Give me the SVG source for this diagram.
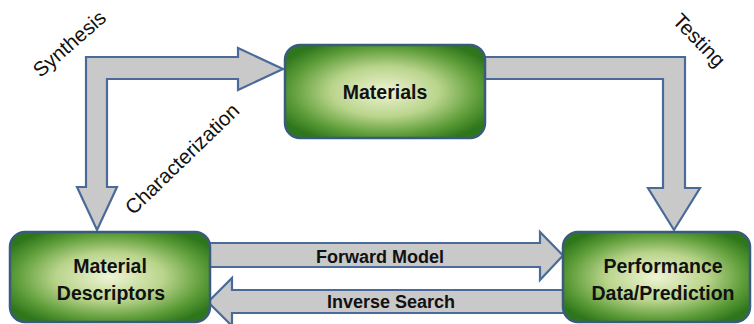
<svg xmlns="http://www.w3.org/2000/svg" width="754" height="324" viewBox="0 0 754 324">
  <defs>
    <radialGradient id="g" cx="50%" cy="50%" r="60%">
      <stop offset="0" stop-color="#eef4d4"/>
      <stop offset="0.45" stop-color="#b9d48b"/>
      <stop offset="0.78" stop-color="#5e9d39"/>
      <stop offset="1" stop-color="#2e761b"/>
    </radialGradient>
    <style>
      .node { fill: url(#g); stroke: #3b5b7c; stroke-width: 2.5; }
      .arrow { fill: #c9c9c9; stroke: #4a6b99; stroke-width: 2.2; stroke-linejoin: miter; }
      .nt { font-family: "Liberation Sans", Arial, sans-serif; font-weight: bold; font-size: 19.5px; fill: #111; text-anchor: middle; }
      .at { font-family: "Liberation Sans", Arial, sans-serif; font-weight: bold; font-size: 18px; fill: #111; text-anchor: middle; }
      .lt { font-family: "Liberation Sans", Arial, sans-serif; font-size: 20.5px; fill: #111; text-anchor: middle; }
    </style>
  </defs>
  <rect width="754" height="324" fill="#ffffff"/>
  <g id="connectors">
    <polygon class="arrow" points="97,230 117,187 107,187 107,79 238,79 238,90 283,69 238,48 238,57 86,57 86,187 77,187"/>
    <polygon class="arrow" points="480,57 685,57 685,188 700,188 674,230 648,188 663,188 663,79 480,79"/>
    <polygon class="arrow" points="208,243 540,243 540,232 563,255.5 540,280 540,267 208,267"/>
    <polygon class="arrow" points="566,290 232,290 232,278 208,302 232,326 232,313 566,313"/>
    <text class="lt" transform="translate(74,49) rotate(-41)">Synthesis</text>
    <text class="lt" transform="translate(187,164) rotate(-44)">Characterization</text>
    <text class="lt" transform="translate(694,45) rotate(46)">Testing</text>
    <text class="at" x="380" y="263">Forward Model</text>
    <text class="at" x="391" y="308">Inverse Search</text>
  </g>
  <g id="materials">
    <rect class="node" x="285" y="45" width="200" height="93" rx="15"/>
    <text class="nt" x="385" y="99">Materials</text>
  </g>
  <g id="material-descriptors">
    <rect class="node" x="10" y="232" width="200" height="90" rx="15"/>
    <text class="nt" x="110" y="273">Material</text>
    <text class="nt" x="111" y="300">Descriptors</text>
  </g>
  <g id="performance">
    <rect class="node" x="563" y="232" width="187" height="90" rx="15"/>
    <text class="nt" x="663" y="273">Performance</text>
    <text class="nt" x="663" y="300">Data/Prediction</text>
  </g>
</svg>
